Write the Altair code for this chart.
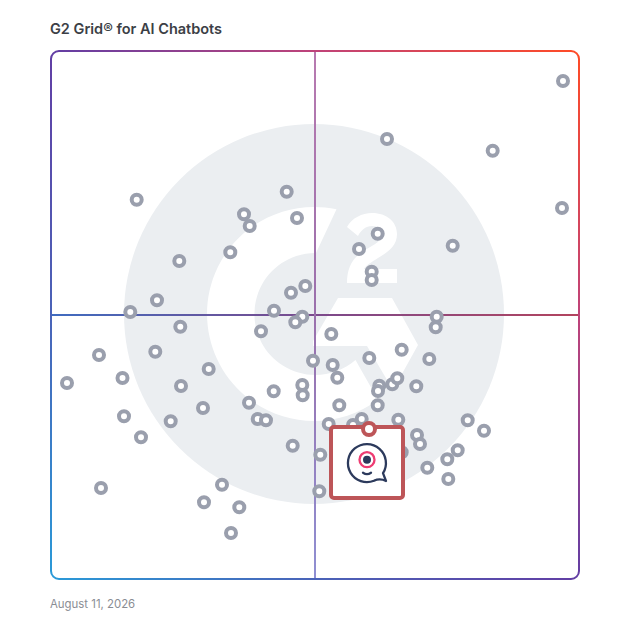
import altair as alt
import pandas as pd

TITLE = "G2 Grid® for AI Chatbots"
DATE = "August 11, 2026"

# Scores (satisfaction on x, market presence on y), scale 0-528
sat = [512, 336, 441.7, 511, 85.7, 235.7, 193, 198.7, 246, 326.7, 308, 401.7, 179.3, 128.3,
       320.7, 320.7, 254.3, 240, 106, 79.3, 223, 251.3, 244.3, 385.7, 384.7, 129.3, 210, 280.3,
       104.3, 48, 350.7, 262, 318.3, 378.3, 281.7, 286.3, 157.7, 71.5, 16, 130, 251.3, 251.7,
       222.7, 328.3, 327, 341.3, 346.3, 365.3, 326.7, 288.3, 198, 152, 73, 119.7, 206.7, 215,
       347.3, 310.7, 277.7, 302, 416.7, 433, 90, 241.7, 366, 369, 350.7, 269.3, 406.7, 396.3,
       376.3, 397.3, 50, 171, 153, 188.3, 268.3, 180]
pres = [498, 440, 428.3, 371, 379.3, 387.3, 364.7, 353, 361, 345.3, 330, 333.3, 326.7, 318,
        307.3, 299, 293, 286.3, 278.7, 267, 268.3, 262.3, 256.7, 262.3, 251.7, 252.3, 247.7, 245,
        227.3, 224, 229.3, 218.3, 221, 220, 214, 201.3, 210, 201, 196, 193, 194, 183.7,
        187.7, 193.3, 188, 194.7, 200.7, 192.7, 173.7, 173.7, 176.3, 171, 162.7, 157.7, 160, 158.7,
        159.3, 160, 155, 154, 158.7, 148.3, 141.7, 133.3, 144, 135, 126.7, 124.3, 128.7, 119.7,
        111.3, 100, 91, 94.3, 76.7, 71.7, 87.7, 46]
highlight_sat = [318]
highlight_pres = [150]

X = alt.Scale(domain=[0, 528])
Y = alt.Scale(domain=[0, 528])
x_q = lambda f: alt.X(f, type="quantitative", scale=X, axis=None)
y_q = lambda f: alt.Y(f, type="quantitative", scale=Y, axis=None)


def grad(colors, x1=0, y1=0, x2=1, y2=0):
    n = len(colors) - 1
    return alt.LinearGradient(
        gradient="linear", x1=x1, y1=y1, x2=x2, y2=y2,
        stops=[alt.GradientStop(offset=i / n, color=c) for i, c in enumerate(colors)],
    )


pts = pd.DataFrame({"sat": sat, "pres": pres})
hi = pd.DataFrame({"sat": highlight_sat, "pres": highlight_pres})
mid = pd.DataFrame({"x": [263], "y": [265]})
frame = pd.DataFrame({"x": [0], "x2": [528], "y": [0], "y2": [528]})
h_line = pd.DataFrame({"x": [0], "x2": [528], "y": [263], "y2": [265]})
v_line = pd.DataFrame({"x": [263], "x2": [265], "y": [0], "y2": [528]})
box = pd.DataFrame({"x": [280], "x2": [352], "y": [81], "y2": [152]})
bubble = pd.DataFrame({"x": [316], "y": [116]})
eye = pd.DataFrame({"x": [316], "y": [119.3]})

LOGO = (
    "M22.5,-104.7 A107,107 0 1 0 64,85.7 L41.5,46 A61,61 0 1 1 2,-61 Z "
    "M24,-16 L78,-16 L104,31 L79,76 L53,32 L-1,32 L-1,27 Z "
    "M33,-87 C38,-96 48,-101 58,-101 C73,-101 83,-92 83,-80 C83,-68 74,-62 64,-56 "
    "C58,-52 52,-49 50,-45 L83,-45 L83,-31 L33,-31 C33,-46 38,-56 51,-64 "
    "C61,-70 68,-73 68,-80 C68,-85 64,-88 58,-88 C52,-88 47,-84 44,-78 Z"
)
BUBBLE = (
    "M7,17.7 A19,19 0 1 1 16,10.2 L19,18 Q13,15 7,17.7 "
    "M-4,9.7 Q0,12.5 4,9.7"
)

disc = alt.Chart(mid).mark_point(shape="circle", filled=True, fill="#ebeef1", opacity=1, size=144400).encode(
    x=x_q("x"), y=y_q("y"))
logo = alt.Chart(mid).mark_point(shape=LOGO, filled=True, fill="#ffffff", opacity=1, size=4).encode(
    x=x_q("x"), y=y_q("y"))

h_rule = alt.Chart(h_line).mark_rect(
    fill=grad(["#3f6cc0", "#7b4a8c", "#b3445e"])
).encode(x=x_q("x"), x2="x2", y=y_q("y"), y2="y2")
v_rule = alt.Chart(v_line).mark_rect(
    fill=grad(["#b87ab0", "#9a70ac", "#8f8fd2"], x2=0, y2=1)
).encode(x=x_q("x"), x2="x2", y=y_q("y"), y2="y2")
border = alt.Chart(frame).mark_rect(
    fillOpacity=0, cornerRadius=8, strokeWidth=2,
    stroke=grad(["#2a9ad8", "#4a63b8", "#623ea4", "#bf4379", "#ff4b26"], x1=0, y1=1, x2=1, y2=0),
).encode(x=x_q("x"), x2="x2", y=y_q("y"), y2="y2")

dots = alt.Chart(pts).mark_point(
    shape="circle", filled=False, fill="#ffffff", fillOpacity=1, opacity=1,
    stroke="#9a9fad", strokeWidth=4, size=100,
).encode(x=x_q("sat"), y=y_q("pres"))

card = alt.Chart(box).mark_rect(
    fill="#ffffff", stroke="#bd5558", strokeWidth=4, cornerRadius=3,
).encode(x=x_q("x"), x2="x2", y=y_q("y"), y2="y2")
pin = alt.Chart(hi).mark_point(
    shape="circle", filled=False, fill="#ffffff", fillOpacity=1, opacity=1,
    stroke="#bd5558", strokeWidth=4, size=144,
).encode(x=x_q("sat"), y=y_q("pres"))

icon = alt.Chart(bubble).mark_point(
    shape=BUBBLE, filled=False, opacity=1, stroke="#2c3a5c", strokeWidth=2.3, size=4,
    strokeJoin="round", strokeCap="round",
).encode(x=x_q("x"), y=y_q("y"))
ring = alt.Chart(eye).mark_point(
    shape="circle", filled=False, opacity=1, stroke="#ee3c72", strokeWidth=2.3, size=225,
).encode(x=x_q("x"), y=y_q("y"))
dot = alt.Chart(eye).mark_point(
    shape="circle", filled=True, fill="#2c3a5c", opacity=1, size=64,
).encode(x=x_q("x"), y=y_q("y"))

title = alt.Chart(pd.DataFrame({"t": [TITLE]})).mark_text(
    align="left", baseline="alphabetic", font="Inter", fontSize=14.5, fontWeight=600, color="#3c3f46",
).encode(x=alt.value(-1), y=alt.value(-17), text="t:N")
date = alt.Chart(pd.DataFrame({"t": [DATE]})).mark_text(
    align="left", baseline="alphabetic", font="Inter", fontSize=11.4, color="#8a8d94",
).encode(x=alt.value(-1), y=alt.value(557), text="t:N")

chart = alt.layer(
    disc, logo, h_rule, v_rule, border, dots, card, pin, icon, ring, dot, title, date,
).properties(
    width=528, height=528,
    autosize=alt.AutoSizeParams(type="none"),
    padding={"left": 43, "top": 43, "right": 41, "bottom": 41},
).configure_view(stroke=None)

chart.save("out.html", embed_options={"renderer": "svg", "actions": False})
